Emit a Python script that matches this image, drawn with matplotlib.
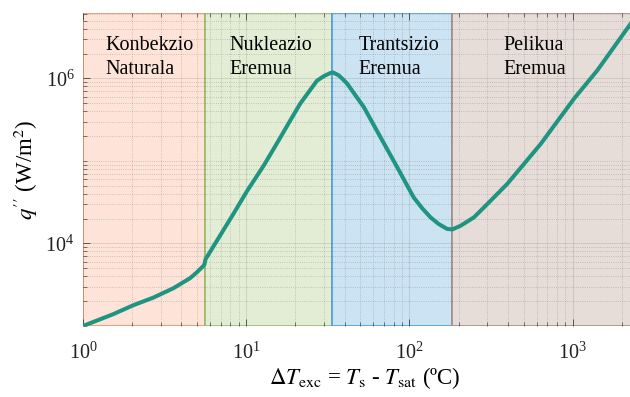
import numpy as np
import matplotlib
matplotlib.use("Agg")
import matplotlib.pyplot as plt
from matplotlib.ticker import LogLocator, NullFormatter, FixedLocator

plt.rcParams['font.family'] = 'serif'
plt.rcParams['font.serif'] = ['Liberation Serif', 'DejaVu Serif']
plt.rcParams['mathtext.fontset'] = 'stix'

# boiling curve, read point by point (dT in ºC, q in W/m2)
dT = [1.0, 1.53, 2.04, 2.70, 3.58, 4.53, 5.0, 5.47, 5.55, 5.62,
      6.92, 8.36, 10.1, 12.8, 15.6, 18.6, 21.4, 27.1, 30.0, 32.7, 34.0, 36.8,
      39.0, 41.5, 52.5, 66.4, 84.1, 106, 120, 134.6, 151, 170, 183,
      205.6, 248, 300, 397, 637, 1019, 1418, 2270, 2600]
q = [1000, 1390, 1790, 2210, 2870, 3800, 4500, 5360, 5600, 6400,
     12500, 23000, 43000, 88000, 170000, 309000, 494000, 937000, 1.07e6, 1.16e6, 1.18e6, 1.09e6,
     980000, 865000, 449000, 194000, 83800, 36200, 26500, 20700, 17200, 15000, 14800,
     16400, 20700, 30100, 52700, 161000, 569000, 1.26e6, 4.64e6, 6.6e6]

# regime limits and labels
bounds = [1.0, 5.55, 33.4, 182, 3000]
regimes = ["Konbekzio\nNaturala", "Nukleazio\nEremua", "Trantsizio\nEremua", "Pelikua\nEremua"]
label_x = [1.38, 7.87, 48.7, 376]
face_colors = ["#FDE3D8", "#E3EDD6", "#CCE3F4", "#E7DDD8"]
edge_colors = ["#E8906A", "#93BE6A", "#4C9FD6", "#A88E80"]

fig = plt.figure(figsize=(6.3, 3.97), dpi=100)
ax = fig.add_axes([83 / 630, 71 / 397, 564 / 630, 313 / 397])

for i in range(4):
    ax.axvspan(bounds[i], bounds[i + 1], facecolor=face_colors[i],
               edgecolor=edge_colors[i], linewidth=1.2, zorder=0)
    ax.text(label_x[i], 0.925, regimes[i], transform=ax.get_xaxis_transform(),
            ha='left', va='top', fontsize=14.5, linespacing=1.3, zorder=3)

ax.plot(dT, q, color='#1F9480', linewidth=2.9, solid_capstyle='round',
        solid_joinstyle='round', zorder=4)

ax.set_xscale('log')
ax.set_yscale('log')
ax.set_xlim(1, 2850)
ax.set_ylim(1000, 6.2e6)

ax.yaxis.set_major_locator(FixedLocator([1e4, 1e6]))
ax.yaxis.set_minor_locator(LogLocator(base=10, subs=np.arange(1, 10), numticks=20))
ax.yaxis.set_minor_formatter(NullFormatter())
ax.xaxis.set_minor_locator(LogLocator(base=10, subs=np.arange(2, 10), numticks=20))
ax.xaxis.set_minor_formatter(NullFormatter())

ax.tick_params(which='both', direction='in', top=True, right=True,
               colors='#404040', labelcolor='#222222', labelsize=14.5)
ax.tick_params(which='major', length=5, width=0.6)
ax.tick_params(which='minor', length=3, width=0.5)
ax.tick_params(axis='x', pad=12)
ax.tick_params(axis='y', pad=6)

ax.grid(which='major', color='#262626', alpha=0.15, linewidth=0.6, linestyle='-')
ax.grid(which='minor', color='#262626', alpha=0.25, linewidth=0.6, linestyle=':')
ax.set_axisbelow(False)

for s in ax.spines.values():
    s.set_visible(False)

ax.set_xlabel(r"$\Delta T_{\rm exc}$ = $T_{\rm s}$ - $T_{\rm sat}$ (ºC)", fontsize=16.5, labelpad=1)
ax.set_ylabel(r"$q''$ (W/m$^2$)", fontsize=16.5, labelpad=4)

fig.savefig("out.png", dpi=100)
